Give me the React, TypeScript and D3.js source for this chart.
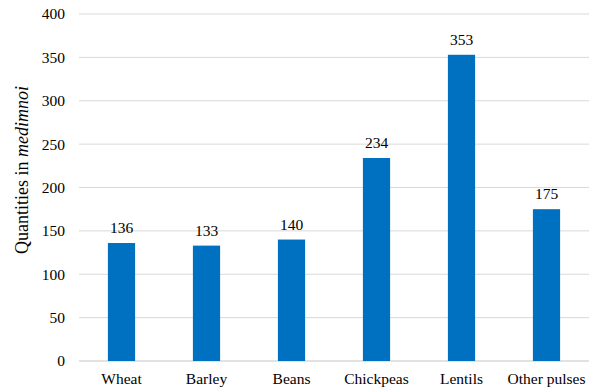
import React from "react";
import * as d3 from "d3";

const categories = ["Wheat", "Barley", "Beans", "Chickpeas", "Lentils", "Other pulses"];
const quantities = [136, 133, 140, 234, 353, 175];
const yTicks = [0, 50, 100, 150, 200, 250, 300, 350, 400];

const W = 596;
const H = 392;
const margin = { top: 14, right: 7, bottom: 31, left: 79 };
const FONT = '"Liberation Serif", "Times New Roman", "DejaVu Serif", serif';
const FS = 15.5;
const textStyle = { fontFamily: FONT, fontSize: FS, fill: "#000" };

export default function App() {
  const x = d3
    .scaleBand<string>()
    .domain(categories)
    .range([margin.left, W - margin.right])
    .paddingInner(0.68)
    .paddingOuter(0.34);
  const y = d3.scaleLinear().domain([0, 400]).range([H - margin.bottom, margin.top]);

  return (
    <svg
      width={W}
      height={H}
      style={{ position: "absolute", left: 0, top: 0, background: "#fff", fontFamily: FONT }}
    >
      {yTicks.map((t) => (
        <g key={t}>
          <line
            x1={margin.left}
            x2={W - margin.right}
            y1={y(t)}
            y2={y(t)}
            stroke="#d9d9d9"
            strokeWidth={t === 0 ? 1.5 : 1}
          />
          <text x={65} y={y(t)} dy="0.35em" textAnchor="end" style={textStyle}>
            {t}
          </text>
        </g>
      ))}
      {categories.map((c, i) => {
        const v = quantities[i];
        const bx = x(c)!;
        const cx = bx + x.bandwidth() / 2;
        return (
          <g key={c}>
            <rect x={bx} y={y(v)} width={x.bandwidth()} height={y(0) - y(v)} fill="#0070C0" />
            <text x={cx} y={y(v) - 10} textAnchor="middle" style={textStyle}>
              {v}
            </text>
            <text x={cx} y={y(0) + 23} textAnchor="middle" style={textStyle}>
              {c}
            </text>
          </g>
        );
      })}
      <text
        transform="translate(28, 170) rotate(-90)"
        textAnchor="middle"
        style={{ ...textStyle, fontSize: 18 }}
      >
        Quantities in <tspan fontStyle="italic">medimnoi</tspan>
      </text>
    </svg>
  );
}
